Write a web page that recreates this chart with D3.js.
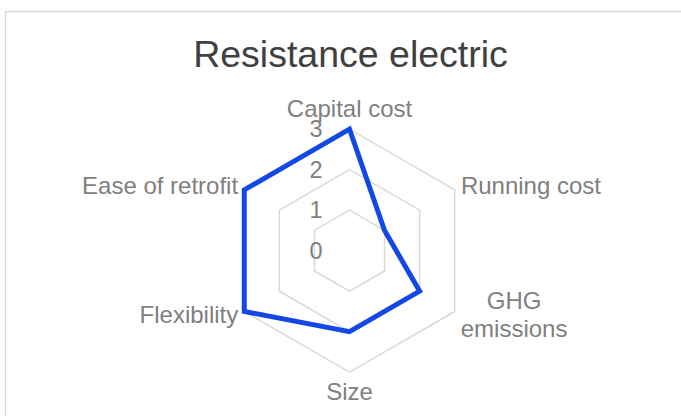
<!DOCTYPE html>
<html>
<head>
<meta charset="utf-8">
<script src="https://cdn.jsdelivr.net/npm/d3@7"></script>
<style>
  body { margin: 0; background: #fff; }
  svg { display: block; font-family: "Liberation Sans", Arial, sans-serif; }
</style>
</head>
<body>
<div id="chart"></div>
<script>
// Radar chart: Resistance electric

const title = "Resistance electric";
const categories = ["Capital cost", "Running cost", "GHG emissions", "Size", "Flexibility", "Ease of retrofit"];
const values = [3, 1, 2, 2, 3, 3];
const ticks = [0, 1, 2, 3];

const width = 681, height = 416;
const cx = 349.5, cy = 250.7, radius = 121.5;

const svg = d3.select("#chart").append("svg")
  .attr("width", width)
  .attr("height", height);

// chart frame (extends past the window on right and bottom)
svg.append("rect")
  .attr("x", 5.5).attr("y", 11.5)
  .attr("width", 720).attr("height", 440)
  .attr("fill", "none")
  .attr("stroke", "#d9d9d9")
  .attr("stroke-width", 1.5);

svg.append("text")
  .attr("x", 350.5).attr("y", 66.5)
  .attr("text-anchor", "middle")
  .attr("fill", "#404040")
  .style("font-size", "37.5px")
  .text(title);

const g = svg.append("g").attr("transform", `translate(${cx},${cy})`);

const r = d3.scaleLinear().domain([0, 3]).range([0, radius]);
const angle = d3.scalePoint().domain(categories).range([0, 2 * Math.PI * (categories.length - 1) / categories.length]);

const radial = d3.lineRadial()
  .angle(d => angle(d.cat))
  .radius(d => r(d.v))
  .curve(d3.curveLinearClosed);

// grid hexagons
g.selectAll(".grid")
  .data(ticks.filter(t => t > 0))
  .enter().append("path")
  .attr("class", "grid")
  .attr("d", t => radial(categories.map(c => ({ cat: c, v: t }))))
  .attr("fill", "none")
  .attr("stroke", "#d9d9d9")
  .attr("stroke-width", 1.5);

// tick labels
g.selectAll(".tick")
  .data(ticks)
  .enter().append("text")
  .attr("class", "tick")
  .attr("x", -27)
  .attr("y", t => -r(t))
  .attr("dy", "0.35em")
  .attr("text-anchor", "end")
  .attr("fill", "#7f7f7f")
  .style("font-size", "23.5px")
  .text(t => t);

// data polygon
g.append("path")
  .attr("d", radial(categories.map((c, i) => ({ cat: c, v: values[i] }))))
  .attr("fill", "none")
  .attr("stroke", "#1448e6")
  .attr("stroke-width", 5)
  .attr("stroke-linejoin", "miter");

// category labels
const labelLines = { "GHG emissions": ["GHG", "emissions"] };
categories.forEach(c => {
  const a = angle(c);
  const vx = Math.sin(a) * r(3);
  const vy = -Math.cos(a) * r(3);
  const lines = labelLines[c] || [c];
  const t = g.append("text")
    .attr("fill", "#7f7f7f")
    .style("font-size", "24px")
    .attr("text-anchor", "middle");
  lines.forEach((l, i) => {
    t.append("tspan").attr("x", 0).attr("dy", i === 0 ? 0 : "1.18em").text(l);
  });
  const bb = t.node().getBBox();
  const capMid = 8.5; // half the cap height
  let x, y;
  if (Math.abs(Math.sin(a)) < 0.01) {
    x = 0;
    y = vy < 0 ? vy - 12 : vy + 28;
  } else {
    const side = Math.sin(a) > 0 ? 1 : -1;
    x = vx + side * (6 + bb.width / 2);
    const block = (lines.length - 1) * 28.3;
    y = vy + (vy < 0 ? -4 : 3) - block / 2 + capMid;
  }
  t.attr("transform", `translate(${x},${y})`);
});
</script>
</body>
</html>
